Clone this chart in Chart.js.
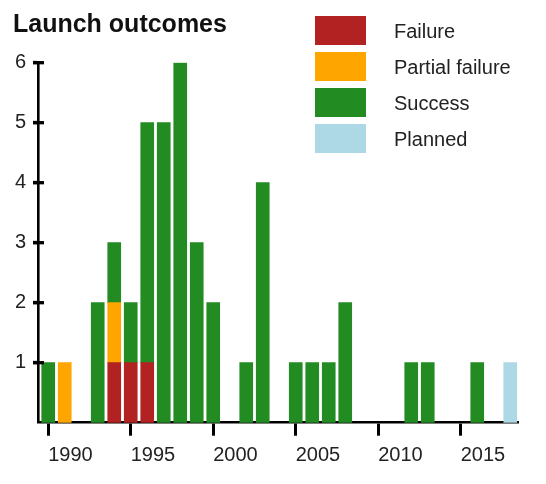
<!DOCTYPE html>
<html>
<head>
<meta charset="utf-8">
<script src="https://cdn.jsdelivr.net/npm/chart.js@4"></script>
<style>
  html, body { margin: 0; padding: 0; background: #fff; }
  #wrap { width: 546px; height: 484px; }
</style>
</head>
<body>
<div id="wrap"><canvas id="myChart"></canvas></div>
<script>
// launches per year, split by outcome
const years    = [1990, 1991, 1992, 1993, 1994, 1995, 1996, 1997, 1998, 1999, 2000, 2001, 2002, 2003, 2004,
                  2005, 2006, 2007, 2008, 2009, 2010, 2011, 2012, 2013, 2014, 2015, 2016, 2017, 2018];
const failure  = [0, 0, 0, 0, 1, 1, 1, 0, 0, 0, 0, 0, 0, 0, 0, 0, 0, 0, 0, 0, 0, 0, 0, 0, 0, 0, 0, 0, 0];
const partial  = [0, 1, 0, 0, 1, 0, 0, 0, 0, 0, 0, 0, 0, 0, 0, 0, 0, 0, 0, 0, 0, 0, 0, 0, 0, 0, 0, 0, 0];
const success  = [1, 0, 0, 2, 1, 1, 4, 5, 6, 3, 2, 0, 1, 4, 0, 1, 1, 1, 2, 0, 0, 0, 1, 1, 0, 0, 1, 0, 0];
const planned  = [0, 0, 0, 0, 0, 0, 0, 0, 0, 0, 0, 0, 0, 0, 0, 0, 0, 0, 0, 0, 0, 0, 0, 0, 0, 0, 0, 0, 1];

const xTicks = [1990, 1995, 2000, 2005, 2010, 2015];
const yTicks = [1, 2, 3, 4, 5, 6];

const FONT = "'Liberation Sans', Arial, sans-serif";

// empty years get no bar at all (a zero bar leaves a hairline on the axis)
function toXY(arr) {
  var out = [];
  years.forEach(function(yr, i) {
    if (arr[i] > 0) out.push({x: yr, y: arr[i]});
  });
  return out;
}

// legend sits inside the plot, top right
const legendInside = {
  id: 'legendInside',
  afterDraw(chart) {
    const ctx = chart.ctx;
    ctx.save();
    ctx.font = '20px ' + FONT;
    ctx.textBaseline = 'alphabetic';
    ctx.textAlign = 'left';
    chart.data.datasets.forEach(function(ds, i) {
      const top = 16 + i * 36;
      ctx.fillStyle = ds.backgroundColor;
      ctx.fillRect(315, top, 51, 29);
      ctx.fillStyle = '#222';
      ctx.fillText(ds.label, 394, top + 21.5);
    });
    ctx.restore();
  }
};

// y tick marks cross the axis line a little
const yTickMarks = {
  id: 'yTickMarks',
  afterDraw(chart) {
    const ctx = chart.ctx;
    const y = chart.scales.y;
    const left = chart.chartArea.left;
    ctx.save();
    ctx.strokeStyle = '#000';
    ctx.lineWidth = 3.3;
    yTicks.forEach(function(v) {
      const py = y.getPixelForValue(v);
      ctx.beginPath();
      ctx.moveTo(left - 5, py);
      ctx.lineTo(left + 6, py);
      ctx.stroke();
    });
    ctx.restore();
  }
};

const config = {
  type: 'bar',
  data: {
    datasets: [
      {label: 'Failure', data: toXY(failure), backgroundColor: '#B22222'},
      {label: 'Partial failure', data: toXY(partial), backgroundColor: '#FFA500'},
      {label: 'Success', data: toXY(success), backgroundColor: '#228B22'},
      {label: 'Planned', data: toXY(planned), backgroundColor: '#ADD8E6'}
    ]
  },
  options: {
    responsive: true,
    maintainAspectRatio: false,
    animation: false,
    barThickness: 13,
    borderWidth: 0,
    layout: {padding: {left: 13, right: 28, top: 0, bottom: 0}},
    plugins: {
      legend: {display: false},
      tooltip: {enabled: false},
      title: {
        display: true,
        text: 'Launch outcomes',
        align: 'start',
        color: '#111',
        font: {family: FONT, size: 25, weight: 'bold'},
        padding: {top: 10, bottom: 22.7}
      }
    },
    scales: {
      x: {
        type: 'linear',
        stacked: true,
        offset: false,
        min: 1989.38,
        max: 2018.47,
        afterBuildTicks: function(scale) {
          scale.ticks = xTicks.map(function(v) { return {value: v}; });
        },
        afterFit: function(scale) { scale.height = 61.3; },
        border: {display: true, color: '#000', width: 2.6},
        grid: {offset: false, drawOnChartArea: false, drawTicks: true, tickLength: 13, tickWidth: 3, tickColor: '#000'},
        ticks: {
          align: 'start',
          padding: 8,
          color: '#222',
          font: {family: FONT, size: 20},
          maxRotation: 0,
          autoSkip: false,
          callback: function(value) { return String(value); }
        }
      },
      y: {
        stacked: true,
        min: 0,
        max: 6,
        afterBuildTicks: function(scale) {
          scale.ticks = yTicks.map(function(v) { return {value: v}; });
        },
        afterFit: function(scale) { scale.width = 25; },
        border: {display: true, color: '#000', width: 2.6},
        grid: {drawOnChartArea: false, drawTicks: true, tickLength: 5, tickWidth: 3.3, tickColor: '#000'},
        ticks: {
          padding: 7,
          color: '#222',
          font: {family: FONT, size: 20},
          callback: function(value) { return String(value); }
        }
      }
    }
  },
  plugins: [legendInside, yTickMarks]
};

new Chart(document.getElementById('myChart'), config);
</script>
</body>
</html>
